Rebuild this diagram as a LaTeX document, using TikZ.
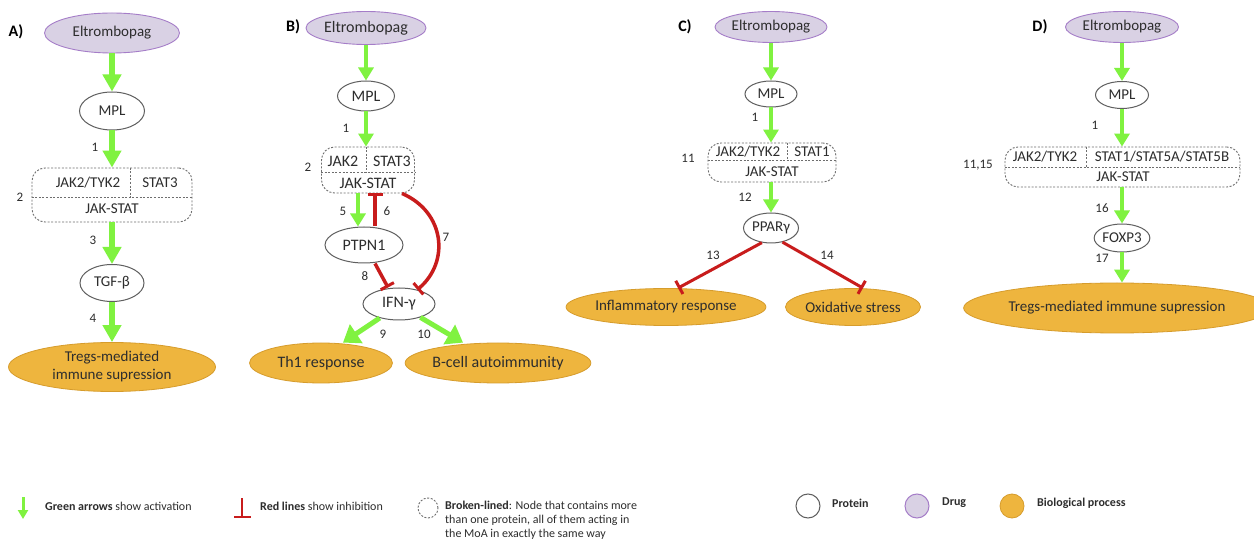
\documentclass[tikz,border=0pt]{standalone}
\usepackage{fontspec}
\setmainfont{Carlito}
\usetikzlibrary{shapes.geometric,arrows.meta}
\definecolor{actgreen}{RGB}{128,242,64}
\definecolor{inhred}{RGB}{200,28,28}
\definecolor{drugfill}{RGB}{217,209,228}
\definecolor{drugdraw}{RGB}{165,125,200}
\definecolor{biofill}{RGB}{238,181,62}
\definecolor{biodraw}{RGB}{214,156,44}
\definecolor{protgray}{RGB}{95,95,95}
\definecolor{dashgray}{RGB}{110,110,110}
\definecolor{txt}{RGB}{45,45,45}
\newcommand\fsz[1]{\fontsize{#1}{#1}\selectfont}
\begin{document}
\begin{tikzpicture}[x=1pt,y=-1pt,
  prot/.style={ellipse, draw=protgray, line width=1pt, fill=white, inner sep=0pt, text=txt, font=\fsz{15}},
  drug/.style={ellipse, draw=drugdraw, line width=0.9pt, fill=drugfill, inner sep=0pt, text=txt, font=\fsz{15}},
  bio/.style={ellipse, draw=biodraw, line width=0.8pt, fill=biofill, inner sep=0pt, text=txt, align=center, font=\fontsize{15}{18}\selectfont},
  cplx/.style={draw=dashgray, dash pattern=on 2pt off 1.6pt, line width=0.9pt, rounded corners=13pt, inner sep=0pt},
  dsh/.style={draw=dashgray, dash pattern=on 2pt off 1.6pt, line width=0.9pt},
  ctext/.style={text=txt, font=\fsz{15}, inner sep=0pt},
  act/.style={draw=actgreen, line width=4.5pt, -{Triangle[width=15pt,length=13pt]}},
  actA/.style={draw=actgreen, line width=6pt, -{Triangle[width=18pt,length=17pt]}},
  actbig/.style={draw=actgreen, line width=5pt, -{Triangle[width=22pt,length=16pt]}},
  inh/.style={draw=inhred, line width=3.5pt, -{Bar[width=15pt,line width=3pt]}},
  num/.style={font=\fsz{13}, text=txt, inner sep=0pt},
  plab/.style={font=\bfseries\fsz{16}, text=black, inner sep=0pt},
  legtext/.style={font=\fontsize{12}{14}\selectfont, text=txt, inner sep=0pt, anchor=west, align=left}
]
\useasboundingbox[fill=white] (0,0) rectangle (1254,545);

% ---------------- Panel A
\node[plab] (labA) at (16,32) {A)};
\node[drug, minimum width=135pt, minimum height=40pt] (eA) at (112,33) {Eltrombopag};
\node[prot, minimum width=65pt, minimum height=38pt] (mA) at (112,111) {MPL};
\node[cplx, minimum width=160pt, minimum height=54pt] (bA) at (112,195) {};
\draw[dsh] (bA.west |- 0,197) -- (bA.east |- 0,197);
\draw[dsh] (bA.north -| 130,0) -- (130,197);
\node[ctext] (jA) at (88,183) {JAK2/TYK2};
\node[ctext] (sA) at (160,183) {STAT3};
\node[ctext] (kA) at (112,209) {JAK-STAT};
\node[prot, minimum width=64pt, minimum height=37pt] (tA) at (112,283) {TGF-β};
\node[bio, minimum width=207pt, minimum height=49pt] (pA) at (112,367) {Tregs-mediated\\immune supression};
\draw[actA] (eA) -- (mA);
\draw[actA] (mA) -- (bA);
\draw[actA] (bA) -- (tA);
\draw[actA] (tA) -- (pA);
\node[num] (nA1) at (95,147) {1};
\node[num] (nA2) at (20,197) {2};
\node[num] (nA3) at (93,240) {3};
\node[num] (nA4) at (93,318) {4};

% ---------------- Panel B
\node[plab] (labB) at (293,27) {B)};
\node[drug, minimum width=120pt, minimum height=33pt, font=\fsz{16}] (eB) at (366,28) {Eltrombopag};
\node[prot, minimum width=57pt, minimum height=30pt, font=\fsz{16}] (mB) at (366,96) {MPL};
\node[cplx, minimum width=93pt, minimum height=46pt] (bB) at (368,170) {};
\draw[dsh] (bB.west |- 0,172) -- (bB.east |- 0,172);
\draw[dsh] (bB.north -| 366,0) -- (366,172);
\node[ctext, font=\fsz{16}] (jB) at (343,161) {JAK2};
\node[ctext, font=\fsz{16}] (sB) at (392,161) {STAT3};
\node[ctext, font=\fsz{16}] (kB) at (368,183) {JAK-STAT};
\node[prot, minimum width=78pt, minimum height=36pt, font=\fsz{16}] (pB) at (364,245) {PTPN1};
\node[prot, minimum width=72pt, minimum height=32pt, font=\fsz{16}] (iB) at (399,304) {IFN-γ};
\node[bio, minimum width=143pt, minimum height=40pt, font=\fsz{16}] (thB) at (321,363) {Th1 response};
\node[bio, minimum width=167pt, minimum height=40pt, font=\fsz{16}] (bcB) at (498,363) {B-cell autoimmunity};
\draw[act] (eB) -- (mB);
\draw[act] (mB.south) -- (mB.south |- bB.north);
\draw[act] (bB.south -| 358,0) -- (pB.north -| 358,0);
\draw[inh] (pB.north -| 375,0) -- (bB.south -| 375,0);
\draw[inh] (bB.south -| 402,0) .. controls (445,212) and (450,262) .. (iB.38);
\draw[inh] (pB.south -| 375,0) -- (iB.north -| 388,0);
\draw[actbig] (iB.216) -- (thB.north -| 343,0);
\draw[actbig] (iB.-32) -- (bcB.north -| 463,0);
\node[num] (nB1) at (346,128) {1};
\node[num] (nB2) at (308,167) {2};
\node[num] (nB5) at (343,211) {5};
\node[num] (nB6) at (387,211) {6};
\node[num] (nB7) at (446,237) {7};
\node[num] (nB8) at (365,276) {8};
\node[num] (nB9) at (383,334) {9};
\node[num] (nB10) at (424,334) {10};

% ---------------- Panel C
\node[plab] (labC) at (685,27) {C)};
\node[drug, minimum width=112pt, minimum height=31pt] (eC) at (771,27) {Eltrombopag};
\node[prot, minimum width=52pt, minimum height=26pt] (mC) at (771,94) {MPL};
\node[cplx, minimum width=128pt, minimum height=39pt] (bC) at (772,162.5) {};
\draw[dsh] (bC.west |- 0,160) -- (bC.east |- 0,160);
\draw[dsh] (bC.north -| 787,0) -- (787,160);
\node[ctext] (jC) at (748,152) {JAK2/TYK2};
\node[ctext] (sC) at (812,152) {STAT1};
\node[ctext] (kC) at (772,172) {JAK-STAT};
\node[prot, minimum width=55pt, minimum height=30pt] (pC) at (771,228) {PPARγ};
\node[bio, minimum width=162pt, minimum height=37pt] (infC) at (666,307) {Inflammatory response};
\node[bio, minimum width=127pt, minimum height=37pt] (oxC) at (853,307) {Oxidative stress};
\draw[act] (eC) -- (mC);
\draw[act] (mC.south) -- (mC.south |- bC.north);
\draw[act] (bC.south -| 771,0) -- (pC.north);
\draw[inh, line width=3pt] (pC.238) -- (infC.north -| 678,0);
\draw[inh, line width=3pt] (pC.-51) -- (oxC.north -| 863,0);
\node[num] (nC1) at (755,117) {1};
\node[num] (nC11) at (688,158) {11};
\node[num] (nC12) at (745,197) {12};
\node[num] (nC13) at (713,255) {13};
\node[num] (nC14) at (827,255) {14};

% ---------------- Panel D
\node[plab] (labD) at (1040,27) {D)};
\node[drug, minimum width=113pt, minimum height=31pt] (eD) at (1122,27) {Eltrombopag};
\node[prot, minimum width=53pt, minimum height=27pt] (mD) at (1122,95) {MPL};
\node[cplx, minimum width=235pt, minimum height=40pt] (bD) at (1122.5,167) {};
\draw[dsh] (bD.west |- 0,167) -- (bD.east |- 0,167);
\draw[dsh] (bD.north -| 1086,0) -- (1086,167);
\node[ctext] (jD) at (1045,157) {JAK2/TYK2};
\node[ctext] (sD) at (1162,157) {STAT1/STAT5A/STAT5B};
\node[ctext] (kD) at (1123,177) {JAK-STAT};
\node[prot, minimum width=55pt, minimum height=28pt] (fD) at (1122,238) {FOXP3};
\node[bio, minimum width=250pt, minimum height=50pt] (tD) at (1117,308) {Tregs-mediated immune supression};
\draw[act] (eD) -- (mD);
\draw[act] (mD.south) -- (mD.south |- bD.north);
\draw[act] (bD.south -| 1122,0) -- (fD.north);
\draw[act] (fD.south) -- (fD.south |- tD.north);
\node[num] (nD1) at (1095,125) {1};
\node[num] (nD11) at (978,165) {11,15};
\node[num] (nD16) at (1102,208) {16};
\node[num] (nD17) at (1102,258) {17};

% ---------------- Legend
\coordinate (lgA) at (23,497);
\coordinate (lgB) at (23,519);
\draw[draw=actgreen, line width=3pt, -{Triangle[width=10pt,length=9pt]}] (lgA) -- (lgB);
\node[legtext] (lt1) at (45,506) {\textbf{Green arrows} show activation};
\coordinate (lrA) at (242,498);
\coordinate (lrB) at (242,518);
\draw[draw=inhred, line width=2.5pt, -{Bar[width=17pt,line width=2.5pt]}] (lrA) -- (lrB);
\node[legtext] (lt2) at (260,506) {\textbf{Red lines} show inhibition};
\node[circle, dsh, minimum size=20pt] (lc1) at (428,508) {};
\node[legtext] (lt3) at (445,520) {\textbf{Broken-lined}: Node that contains more\\than one protein, all of them acting in\\the MoA in exactly the same way};
\node[circle, draw=protgray, line width=1pt, fill=white, minimum size=24pt] (lc2) at (808,506) {};
\node[legtext] (lt4) at (832,503) {\textbf{Protein}};
\node[circle, draw=drugdraw, line width=1pt, fill=drugfill, minimum size=24pt] (lc3) at (917,506) {};
\node[legtext] (lt5) at (942,503) {\textbf{Drug}};
\node[circle, draw=biodraw, line width=0.8pt, fill=biofill, minimum size=24pt] (lc4) at (1012,506) {};
\node[legtext] (lt6) at (1037,503) {\textbf{Biological process}};
\end{tikzpicture}
\end{document}
